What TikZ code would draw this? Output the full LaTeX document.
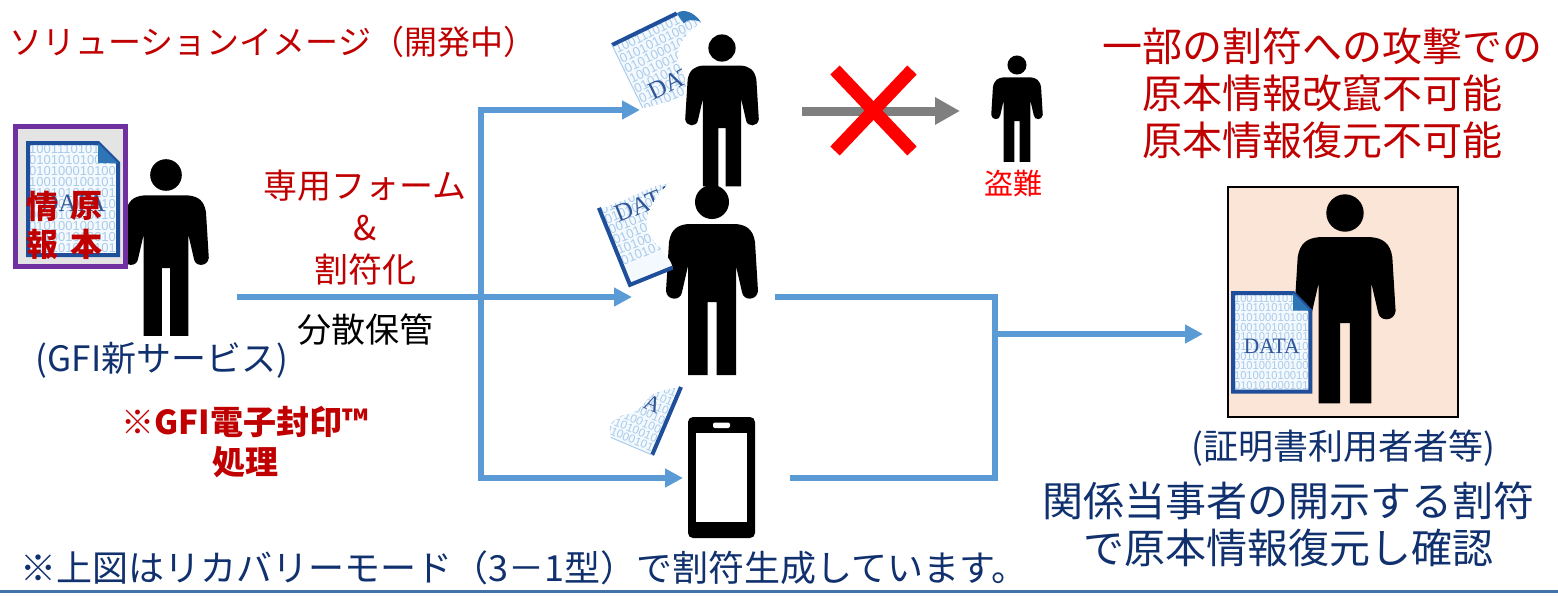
\documentclass[tikz,border=0pt]{standalone}
\usepackage{fontspec}
\setmainfont{Noto Sans CJK JP}
\newfontfamily\binfont{Liberation Sans}
\newfontfamily\datafont{Liberation Serif}
\usetikzlibrary{arrows.meta}

\definecolor{redtxt}{HTML}{C00000}
\definecolor{alarm}{HTML}{FF0000}
\definecolor{navy}{HTML}{10306E}
\definecolor{lineblue}{HTML}{5B9BD5}
\definecolor{arrowgray}{HTML}{7F7F7F}
\definecolor{peach}{HTML}{FBE5D6}
\definecolor{frame}{HTML}{7030A0}
\definecolor{framebg}{HTML}{E4E4E4}
\definecolor{docedge}{HTML}{1F4E9A}
\definecolor{docfold}{HTML}{2E75B6}
\definecolor{docbg}{HTML}{F4F9FE}
\definecolor{binblue}{HTML}{A9CBEA}
\definecolor{datablue}{HTML}{2F5597}
\definecolor{rulecol}{HTML}{4472A8}

\newcommand\fsz[1]{\fontsize{#1}{#1}\selectfont}

% page outline of a data sheet (90 x 112, y pointing down)
\newcommand\docpath{(0,0) -- (70,0) -- (90,20) -- (90,112) -- (0,112) -- cycle}
% binary rows and the DATA label printed on a sheet
\newcommand\docinner{%
  \node[bin, anchor=north west] at (1,1)
    {1001110101011\\0101010100010\\0101000101001\\1001001001010\\0101010101010\\
     0101010100101\\0010101000101\\0101001001001\\1010010100101\\0101010001010};
  \node[datatxt] at (45,60) {DATA};
}

\tikzset{
  txt/.style={inner sep=0pt, align=center},
  bin/.style={inner sep=0pt, align=left, text=binblue, font=\binfont\fontsize{13}{11}\selectfont},
  datatxt/.style={inner sep=0pt, text=datablue, font=\datafont\fsz{25}},
  flowtip/.tip={Triangle[length=18pt,width=18pt]},
  graytip/.tip={Triangle[length=25pt,width=26pt]},
  flow/.style={draw=lineblue, line width=6pt, line join=miter},
  edgeline/.style={draw=docedge, line width=4pt, line join=miter},
  pics/person/.style={code={
    \fill[black] (0,0) circle[radius=17];
    \fill[black] (4.5,173) -- (4.5,100) -- (-4.5,100) -- (-4.5,173) -- (-24,173) -- (-24,64)
      -- (-30,90) .. controls (-31,99) and (-45,99) .. (-46,89)
      -- (-43,40) .. controls (-41,27) and (-34,23) .. (-24,22)
      -- (24,22) .. controls (34,23) and (41,27) .. (43,40)
      -- (46,89) .. controls (45,99) and (31,99) .. (30,90)
      -- (24,64) -- (24,173) -- cycle;
  }}
}

\begin{document}
\begin{tikzpicture}[x=1pt,y=-1pt]
\useasboundingbox (0,0) rectangle (1558,595);

% ---------- headings ----------
\node[txt, text=redtxt, font=\fsz{33}] (title) at (273,42) {ソリューションイメージ（開発中）};
\node[txt, text=redtxt, font=\fontsize{40}{47}\selectfont] (claim) at (1322,93)
  {一部の割符への攻撃での\\原本情報改竄不可能\\原本情報復元不可能};

% ---------- owner of the original ----------
\coordinate (sender) at (166,175);
\pic[scale=0.93] at (sender) {person};
\draw[frame, fill=framebg, line width=5pt] (15,126) rectangle (125,266);
\begin{scope}[shift={(28,143)}, transform shape]
  \begin{scope}
    \clip \docpath;
    \fill[docbg] \docpath;
    \docinner
  \end{scope}
  \draw[edgeline] \docpath;
  \fill[docfold] (70,0) -- (90,20) -- (70,20) -- cycle;
\end{scope}
\node[txt, text=redtxt, font=\fsz{32}\bfseries] (c1) at (43,206) {情};
\node[txt, text=redtxt, font=\fsz{32}\bfseries] (c2) at (86,206) {原};
\node[txt, text=redtxt, font=\fsz{32}\bfseries] (c3) at (43,244) {報};
\node[txt, text=redtxt, font=\fsz{32}\bfseries] (c4) at (86,244) {本};
\node[txt, text=navy, font=\fsz{35}] (service) at (162,360) {(GFI新サービス)};
\node[txt, text=redtxt, font=\fontsize{33}{40}\selectfont\bfseries] (seal) at (245,442)
  {※GFI電子封印™\\処理};

% ---------- split labels ----------
\node[txt, text=redtxt, font=\fontsize{34}{42}\selectfont] (form) at (365,228)
  {専用フォーム\\\&\\割符化};
\node[txt, text=black, font=\fsz{34}] (store) at (365,330) {分散保管};

% ---------- distribution lines ----------
\coordinate (srcR) at (237,297);
\coordinate (inM) at (632,297);
\coordinate (hubT) at (481,110);
\coordinate (hubB) at (481,478);
\coordinate (inT) at (640,110);
\coordinate (inB) at (683,478);
\draw[flow, -flowtip] (srcR) -- (inM);
\draw[flow, flowtip-flowtip] (inT) -- (hubT) -- (hubB) -- (inB);

% ---------- share holders ----------
\coordinate (holderA) at (722,48);
\pic[scale=0.8] at (holderA) {person};
\coordinate (holderB) at (712,202);
\pic at (holderB) {person};
\coordinate (phone) at (721.5,477.5);
\fill[black, rounded corners=5pt] (688,417) rectangle (755,538);
\fill[white] (696,433) rectangle (747,522);
\fill[white, rounded corners=2pt] (713,422.5) rectangle (730,428);

% torn share pieces
\begin{scope}[shift={(612,45)}, rotate=26, transform shape]
  \begin{scope}
    \clip (0,0) -- (72,0) -- (90,18) .. controls (70,22) and (52,30) .. (52,48)
      .. controls (52,62) and (48,72) .. (40,78) -- (0,70) -- cycle;
    \fill[docbg] (0,0) rectangle (90,112);
    \docinner
  \end{scope}
  \draw[edgeline] (0,0) -- (72,0);
  \draw[binblue, line width=1pt] (0,0) -- (0,70);
  \fill[docfold] (72,0) .. controls (80,-2) and (88,6) .. (90,18) .. controls (84,12) and (78,10) .. (74,12) -- cycle;
\end{scope}
\begin{scope}[shift={(588,181)}, rotate=22, transform shape]
  \begin{scope}
    \clip (0,29) .. controls (20,34) and (50,26) .. (74,32) .. controls (50,40) and (34,58) .. (37,73)
      .. controls (40,90) and (48,100) .. (46,112) -- (0,112) -- cycle;
    \fill[docbg] (0,0) rectangle (90,112);
    \begin{scope}[shift={(0,-18)}]
      \docinner
    \end{scope}
  \end{scope}
  \draw[edgeline] (0,29) -- (0,112) -- (46,112);
\end{scope}
\begin{scope}[shift={(617,330.5)}, rotate=-23, scale=0.9, transform shape]
  \begin{scope}
    \clip (90,30) -- (90,112) -- (40,112) .. controls (28,100) and (36,86) .. (48,80)
      .. controls (58,74) and (58,60) .. (64,50) .. controls (70,42) and (80,36) .. (90,30) -- cycle;
    \fill[docbg] (0,0) rectangle (90,112);
    \docinner
  \end{scope}
  \draw[edgeline] (90,30) -- (90,112);
  \draw[binblue, line width=1pt] (90,112) -- (40,112);
\end{scope}

% ---------- blocked theft ----------
\coordinate (stealA) at (802,111);
\coordinate (stealB) at (960,111);
\draw[arrowgray, line width=9pt, -graytip] (stealA) -- (stealB);
\draw[alarm, line width=13pt] (835,70) -- (912,151) (912,70) -- (835,151);
\coordinate (thief) at (1017,65);
\pic[scale=0.56] at (thief) {person};
\node[txt, text=alarm, font=\fsz{29}] (theft) at (1013,184) {盗難};

% ---------- collection lines ----------
\coordinate (outM) at (775,297);
\coordinate (outB) at (790,478);
\coordinate (mergeT) at (995,297);
\coordinate (mergeB) at (995,478);
\coordinate (mergeO) at (995,334);
\coordinate (inR) at (1203,334);
\draw[flow] (outM) -- (mergeT) -- (mergeB) -- (outB);
\draw[flow, -flowtip] (mergeO) -- (inR);

% ---------- verifier ----------
\node[draw=black, line width=2.5pt, fill=peach, minimum width=230pt, minimum height=230pt, inner sep=0pt]
  (vbox) at (1343,302) {};
\coordinate (verifier) at (1345,213);
\pic[scale=1.1] at (verifier) {person};
\begin{scope}[shift={(1233,293)}, xscale=0.86, yscale=0.88, transform shape]
  \begin{scope}
    \clip \docpath;
    \fill[docbg] \docpath;
    \docinner
  \end{scope}
  \draw[edgeline] \docpath;
  \fill[docfold] (70,0) -- (90,20) -- (70,20) -- cycle;
\end{scope}
\node[txt, text=navy, font=\fsz{35}] (users) at (1343,448) {(証明書利用者者等)};
\node[txt, text=navy, font=\fontsize{41}{47}\selectfont] (confirm) at (1288,524)
  {関係当事者の開示する割符\\で原本情報復元し確認};

% ---------- footnote ----------
\node[txt, text=navy, font=\fsz{36}, anchor=west] (note) at (20,568)
  {※上図はリカバリーモード（3－1型）で割符生成しています。};
\draw[rulecol, line width=3pt] (0,591) -- (1558,591);
\end{tikzpicture}
\end{document}
